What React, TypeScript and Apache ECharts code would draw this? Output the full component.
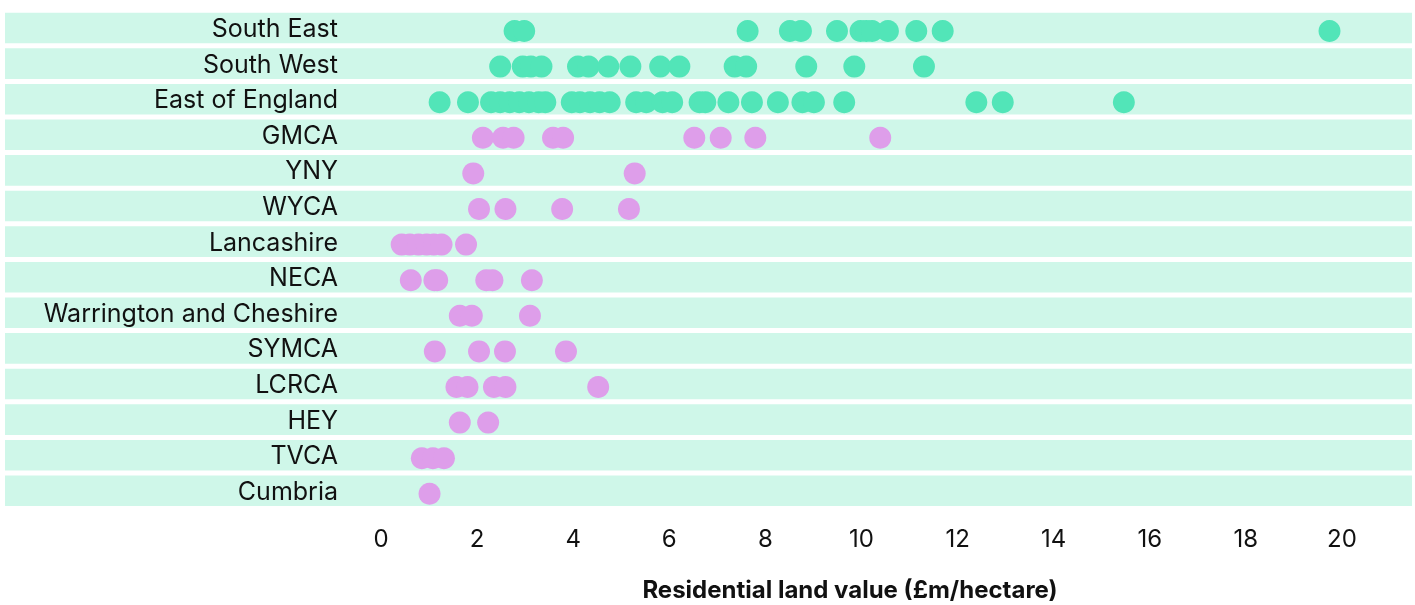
import React, { useEffect, useRef } from "react";
import * as echarts from "echarts";

const categories = [
  "South East",
  "South West",
  "East of England",
  "GMCA",
  "YNY",
  "WYCA",
  "Lancashire",
  "NECA",
  "Warrington and Cheshire",
  "SYMCA",
  "LCRCA",
  "HEY",
  "TVCA",
  "Cumbria",
];

const southEast = [2.78, 2.98, 7.63, 8.51, 8.74, 9.49, 9.98, 10.1, 10.22, 10.55, 11.14, 11.69, 19.74];
const southWest = [2.48, 2.95, 3.12, 3.34, 4.1, 4.32, 4.73, 5.19, 5.81, 6.21, 7.36, 7.6, 8.85, 9.85, 11.3];
const eastOfEngland = [
  1.22, 1.81, 2.29, 2.48, 2.68, 2.88, 3.08, 3.28, 3.42, 3.97, 4.14, 4.35, 4.55, 4.76, 5.31, 5.52, 5.86, 6.06,
  6.63, 6.75, 7.23, 7.72, 8.26, 8.77, 9.01, 9.64, 12.39, 12.94, 15.46,
];
const gmca = [2.12, 2.54, 2.76, 3.58, 3.79, 6.52, 7.07, 7.79, 10.39];
const yny = [1.92, 5.28];
const wyca = [2.04, 2.59, 3.77, 5.16];
const lancashire = [0.43, 0.6, 0.78, 0.95, 1.1, 1.26, 1.77];
const neca = [0.62, 1.11, 1.17, 2.19, 2.32, 3.14];
const warringtonCheshire = [1.64, 1.89, 3.1];
const symca = [1.12, 2.04, 2.58, 3.85];
const lcrca = [1.57, 1.8, 2.35, 2.59, 4.52];
const hey = [1.64, 2.23];
const tvca = [0.85, 1.08, 1.31];
const cumbria = [1.01];

const greenRegions: [string, number[]][] = [
  ["South East", southEast],
  ["South West", southWest],
  ["East of England", eastOfEngland],
];
const pinkRegions: [string, number[]][] = [
  ["GMCA", gmca],
  ["YNY", yny],
  ["WYCA", wyca],
  ["Lancashire", lancashire],
  ["NECA", neca],
  ["Warrington and Cheshire", warringtonCheshire],
  ["SYMCA", symca],
  ["LCRCA", lcrca],
  ["HEY", hey],
  ["TVCA", tvca],
  ["Cumbria", cumbria],
];

const xTicks = { min: 0, max: 20, interval: 2 };
const axisTitle = "Residential land value (£m/hectare)";

const FONT = "Inter, 'Open Sans', sans-serif";

export default function App() {
  const ref = useRef<HTMLDivElement>(null);
  useEffect(() => {
    if (!ref.current) return;
    const chart = echarts.init(ref.current, undefined, { renderer: "svg" });
    const toPoints = (rows: [string, number[]][]) =>
      rows.flatMap(([cat, vals]) => vals.map((v) => [v, cat]));
    const gridTop = 10.2;
    const gridH = 498.4;
    chart.setOption({
      animation: false,
      textStyle: { fontFamily: FONT },
      grid: [
        { left: 5, right: 3, top: gridTop, height: gridH },
        { left: 381, width: 961, top: gridTop + 3, height: gridH },
      ],
      xAxis: [
        { type: "value", gridIndex: 0, min: 0, max: 1, show: false },
        {
          type: "value",
          gridIndex: 1,
          min: xTicks.min,
          max: xTicks.max,
          interval: xTicks.interval,
          axisLine: { show: false },
          axisTick: { show: false },
          splitLine: { show: false },
          axisLabel: { color: "#111", fontSize: 24, margin: 15, fontFamily: FONT },
        },
      ],
      yAxis: [
        {
          type: "category",
          gridIndex: 0,
          data: categories,
          inverse: true,
          offset: -341,
          z: 10,
          axisLine: { show: false },
          axisTick: { show: false },
          splitLine: { show: false },
          axisLabel: { color: "#111", fontSize: 25, margin: 8, fontFamily: FONT, padding: [6, 0, 0, 0] },
        },
        {
          type: "category",
          gridIndex: 1,
          data: categories,
          inverse: true,
          show: false,
        },
      ],
      series: [
        {
          type: "bar",
          xAxisIndex: 0,
          yAxisIndex: 0,
          data: categories.map(() => 1),
          barWidth: 30.6,
          itemStyle: { color: "#CFF7E9" },
          silent: true,
          z: 1,
        },
        {
          type: "scatter",
          xAxisIndex: 1,
          yAxisIndex: 1,
          data: toPoints(greenRegions),
          symbolSize: 22,
          itemStyle: { color: "#52E5B8", opacity: 1 },
          z: 3,
        },
        {
          type: "scatter",
          xAxisIndex: 1,
          yAxisIndex: 1,
          data: toPoints(pinkRegions),
          symbolSize: 22,
          itemStyle: { color: "#DE9EEA", opacity: 1 },
          z: 3,
        },
      ],
      graphic: [
        {
          type: "text",
          x: 850,
          y: 589,
          style: {
            text: axisTitle,
            fontSize: 24,
            fontWeight: "bold",
            fill: "#111",
            fontFamily: FONT,
            textAlign: "center",
            textVerticalAlign: "middle",
          },
        },
      ],
    });
    return () => chart.dispose();
  }, []);
  return (
    <div
      ref={ref}
      style={{ position: "fixed", left: 0, top: 0, width: 1415, height: 605 }}
    />
  );
}
